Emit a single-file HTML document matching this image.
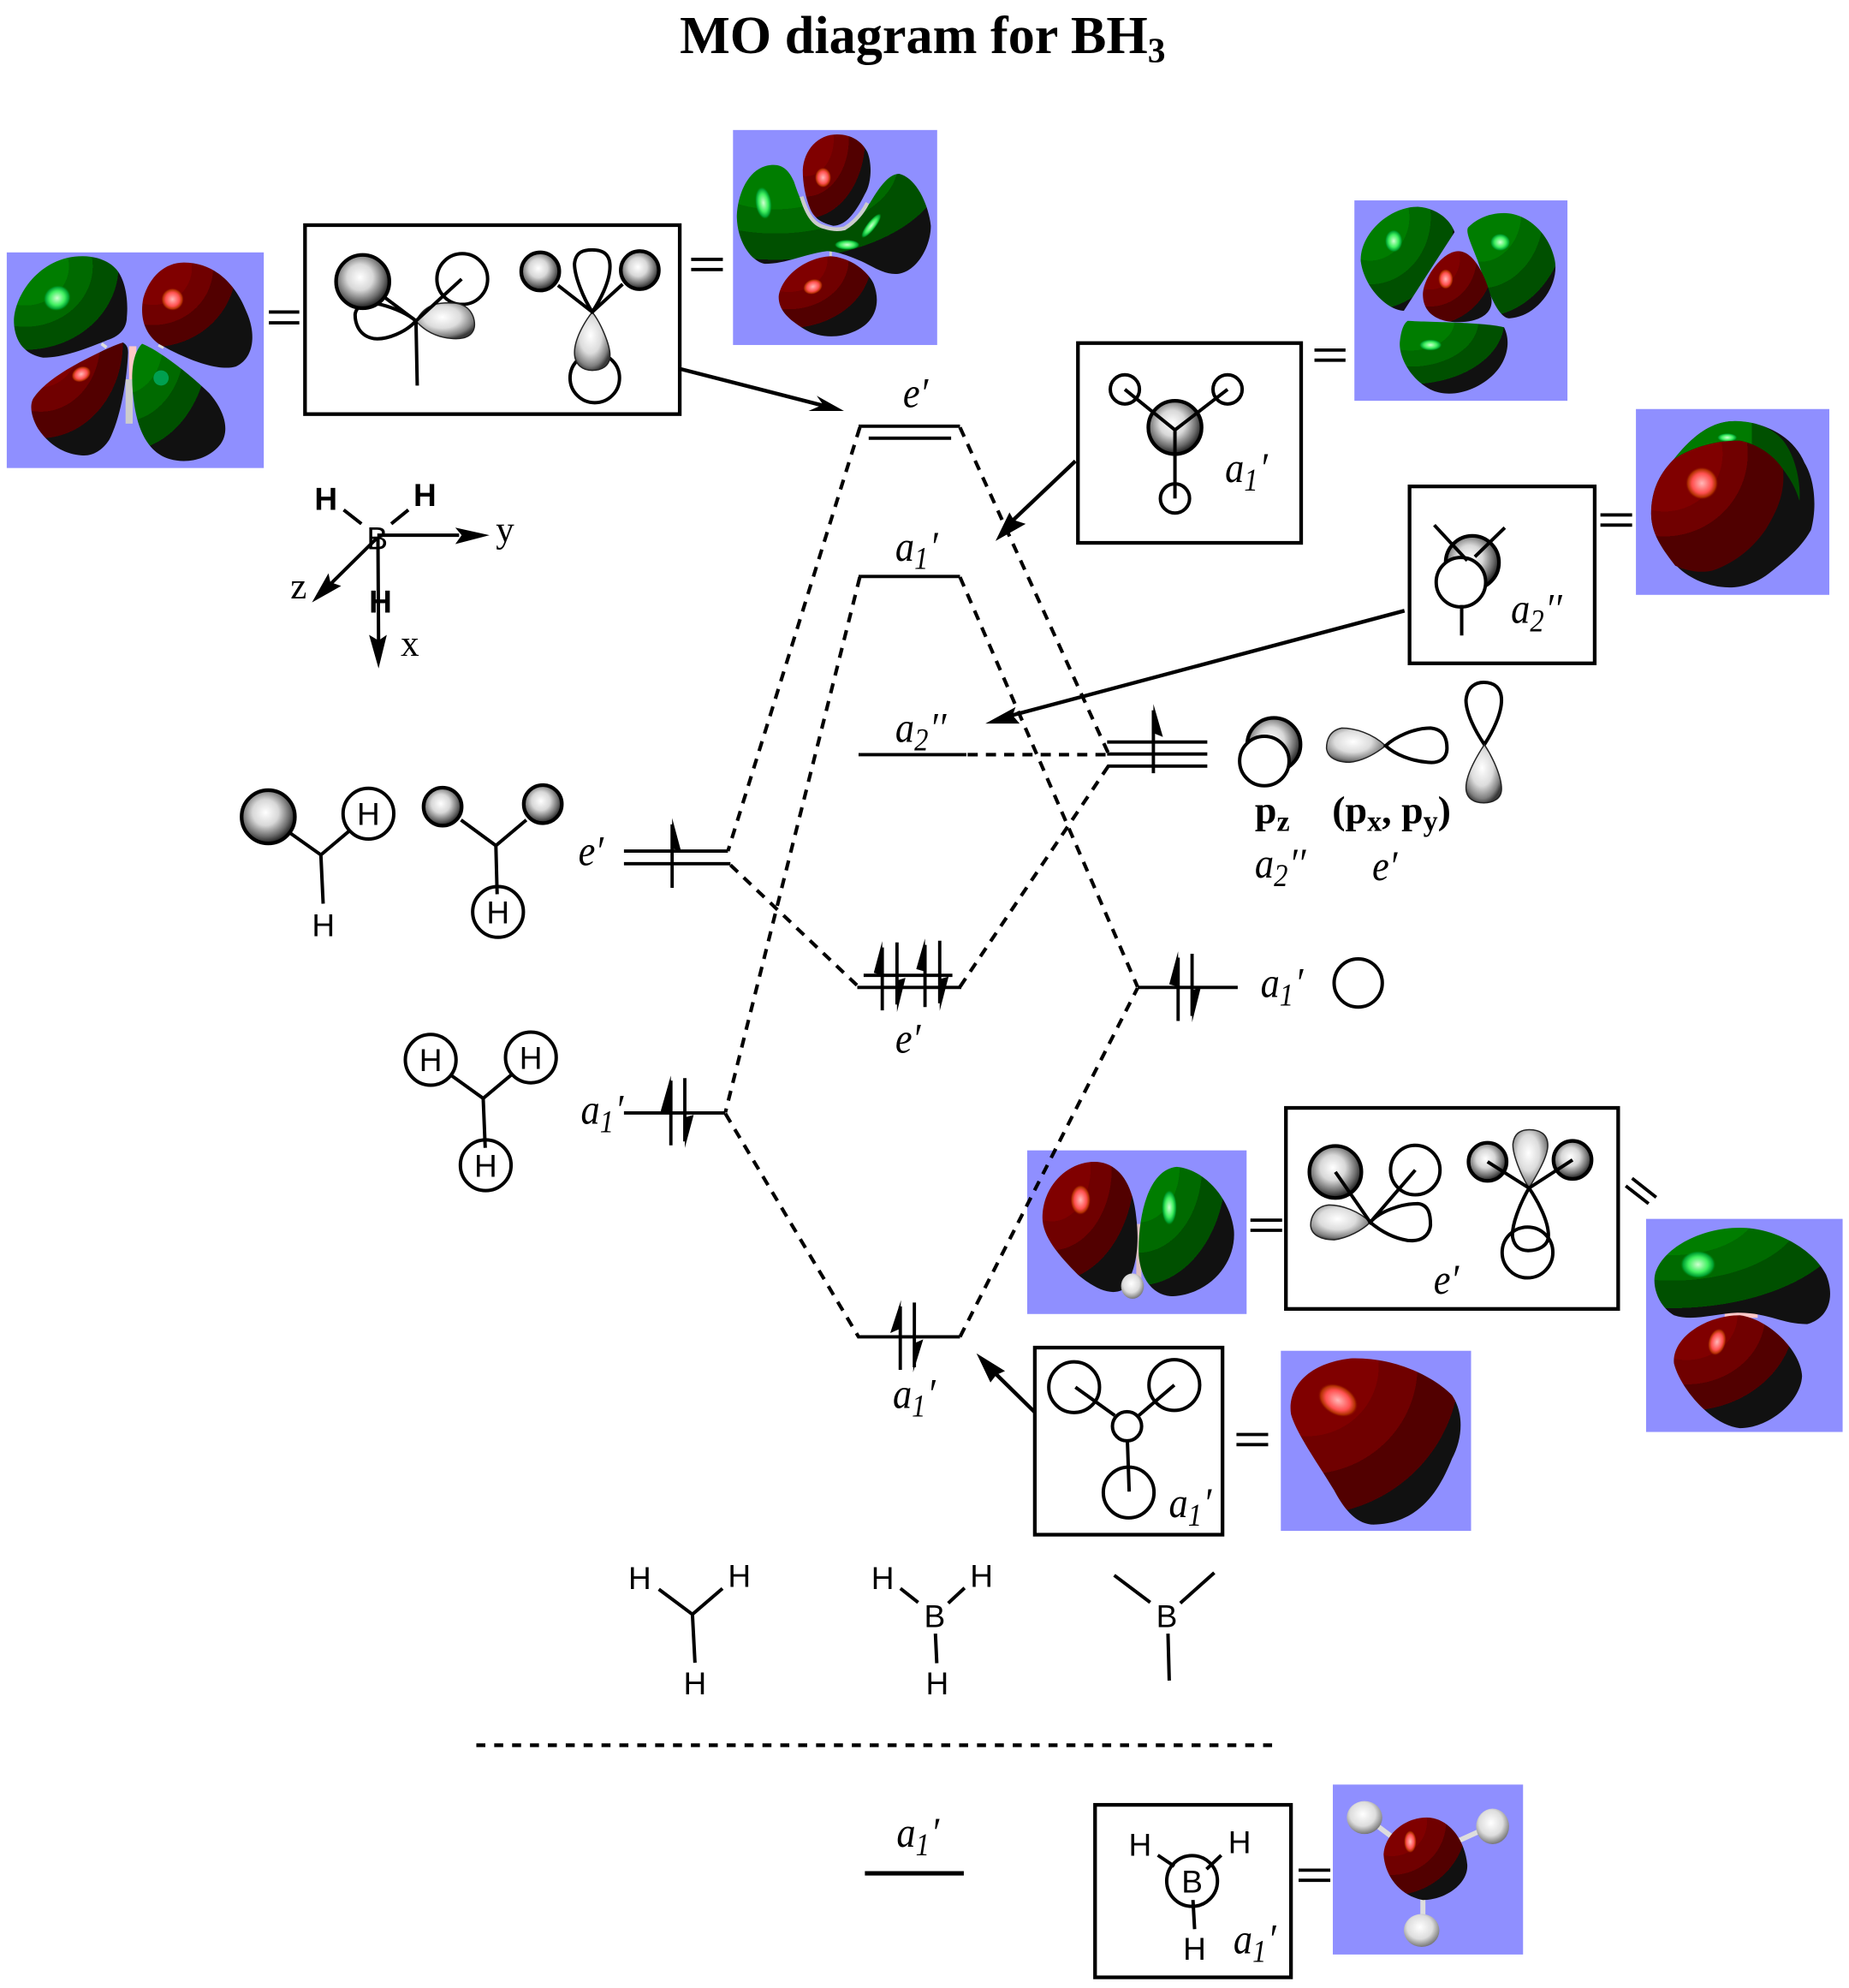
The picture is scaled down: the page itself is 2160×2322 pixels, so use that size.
<!DOCTYPE html>
<html><head><meta charset="utf-8"><title>MO diagram for BH3</title>
<style>
html,body{margin:0;padding:0;background:#fff}
svg{display:block}
.l{stroke:#000;stroke-width:2.7;fill:none;stroke-linecap:butt}
.a{stroke:#000;stroke-width:3;fill:none}
.t{stroke:#000;stroke-width:2.6;fill:none}
.d{stroke:#000;stroke-width:2.8;fill:none;stroke-dasharray:8 6.4}
.bx{stroke:#000;stroke-width:2.9;fill:#fff}
.w{stroke:#000;stroke-width:2.7;fill:#fff}
.n{stroke:#000;stroke-width:2.7;fill:none}
.g{stroke:#000;stroke-width:2.9;fill:url(#ball)}
.lg{stroke:#222;stroke-width:1;fill:url(#lobe)}
.bg{fill:#8f8fff}
.i{font-family:"Liberation Serif",serif;font-style:italic;font-size:30px;fill:#000}
.s{font-family:"Liberation Sans",sans-serif;font-size:25px;fill:#000;text-anchor:middle}
.ax{font-family:"Liberation Serif",serif;font-size:29px;fill:#000}
.bd{font-family:"Liberation Serif",serif;font-weight:bold;font-size:31px;fill:#000}
</style></head><body>
<svg xmlns="http://www.w3.org/2000/svg" width="2160" height="2322" viewBox="0 0 1458 1567.4">
<defs>
<radialGradient id="ball" cx="45%" cy="42%" r="58%"><stop offset="0" stop-color="#fff"/><stop offset=".42" stop-color="#d8d8d8"/><stop offset=".78" stop-color="#6a6a6a"/><stop offset="1" stop-color="#1a1a1a"/></radialGradient>
<radialGradient id="lobe" cx="45%" cy="40%" r="62%"><stop offset="0" stop-color="#fff"/><stop offset=".5" stop-color="#dcdcdc"/><stop offset=".85" stop-color="#808080"/><stop offset="1" stop-color="#3a3a3a"/></radialGradient>

<radialGradient id="rr"><stop offset="0" stop-color="#800000"/><stop offset=".22" stop-color="#800000"/><stop offset=".22" stop-color="#700000"/><stop offset=".34" stop-color="#700000"/><stop offset=".34" stop-color="#520000"/><stop offset=".47" stop-color="#520000"/><stop offset=".47" stop-color="#111"/><stop offset="1" stop-color="#111"/></radialGradient>
<radialGradient id="gr"><stop offset="0" stop-color="#007d00"/><stop offset=".22" stop-color="#007d00"/><stop offset=".22" stop-color="#006a00"/><stop offset=".34" stop-color="#006a00"/><stop offset=".34" stop-color="#005000"/><stop offset=".47" stop-color="#005000"/><stop offset=".47" stop-color="#111"/><stop offset="1" stop-color="#111"/></radialGradient>
<radialGradient id="rn" cx=".1" cy=".1" r="1"><stop offset="0" stop-color="#800000"/><stop offset=".44" stop-color="#800000"/><stop offset=".44" stop-color="#700000"/><stop offset=".63" stop-color="#700000"/><stop offset=".63" stop-color="#500000"/><stop offset="1" stop-color="#500000"/></radialGradient>

<radialGradient id="g1" href="#gr" cx=".1" cy=".1" r="1.75"/>
<radialGradient id="r1" href="#rr" cx=".1" cy=".05" r="1.6"/>
<radialGradient id="r2" href="#rr" cx=".1" cy="0" r="1.8"/>
<radialGradient id="g2" href="#gr" cx="-.1" cy="0" r="1.95"/>
<radialGradient id="r3" href="#rr" cx=".05" cy=".05" r="1.85"/>
<radialGradient id="g3" href="#gr" cx=".2" cy="0" r="1.85"/>
<radialGradient id="r4" href="#rr" cx=".1" cy=".05" r="1.8"/>
<radialGradient id="g4" href="#gr" cx=".1" cy=".1" r="1.9"/>
<radialGradient id="g5" href="#gr" cx=".15" cy="0" r="2.1"/>
<radialGradient id="r5" href="#rr" cx=".1" cy=".1" r="2"/>
<radialGradient id="g6" href="#gr" cx=".1" cy="0" r="1.85"/>
<radialGradient id="r6" href="#rr" cx=".1" cy=".05" r="1.85"/>
<radialGradient id="g7" href="#gr" cx="0" cy="0" r="1.95"/>
<radialGradient id="g8" href="#gr" cx=".1" cy="-.2" r="2.2"/>
<radialGradient id="r7" href="#rr" cx=".1" cy="0" r="1.8"/>
<radialGradient id="r8" href="#rr" cx=".1" cy=".05" r="1.9"/>
<radialGradient id="r9" href="#rr" cx=".1" cy=".05" r="1.9"/>
<linearGradient id="gc" x1="0" y1="0" x2="1" y2="0"><stop offset="0" stop-color="#007a00"/><stop offset=".62" stop-color="#007a00"/><stop offset=".62" stop-color="#005000"/><stop offset="1" stop-color="#005000"/></linearGradient>

<radialGradient id="hr"><stop offset="0" stop-color="#ffb8b8"/><stop offset=".6" stop-color="#ff5050"/><stop offset=".85" stop-color="#b03000"/><stop offset="1" stop-color="#800000" stop-opacity="0"/></radialGradient>
<radialGradient id="hg"><stop offset="0" stop-color="#d0ffd0"/><stop offset=".55" stop-color="#40f060"/><stop offset=".85" stop-color="#00a030"/><stop offset="1" stop-color="#007d00" stop-opacity="0"/></radialGradient>
<radialGradient id="hb" cx="45%" cy="40%" r="60%"><stop offset="0" stop-color="#fff"/><stop offset=".6" stop-color="#ddd"/><stop offset="1" stop-color="#777"/></radialGradient>
</defs>

<text x="536" y="42" font-family="Liberation Serif, serif" font-weight="bold" font-size="42" fill="#000">MO diagram for BH<tspan font-size="28" dy="7">3</tspan></text>

<!-- Blob 1 -->
<rect class="bg" x="5.3" y="199" width="202.7" height="170"/>
<rect x="101.7" y="273" width="5.8" height="26" fill="#ffc8c8"/>
<rect x="99" y="299" width="5.6" height="35" fill="#ccc"/>
<path d="M80 271 L84 274 M125 272 L129 274" stroke="#ddd" stroke-width="2.5"/>
<path fill="url(#g1)" d="M65 202 C78 202 88 207 93 214 C100 224 101 240 100 250 C100 258 95 265 85 268 C68 275 50 282 34 282 C22 280 12 272 11 255 C10 235 30 202 65 202 Z"/>
<path fill="url(#r1)" d="M145 207 C170 207 186 225 194 245 C202 262 201 282 186 289 C172 293 148 284 125 271 C114 263 110 250 113 235 C118 218 130 207 145 207 Z"/>
<path fill="url(#r2)" d="M97 270 C100 272 101 274 101 278 C100 300 95 330 86 347 C80 356 72 360 64 359 C50 358 38 350 30 338 C24 328 23 318 27 313 C35 302 50 292 70 282 C80 277 90 272 97 270 Z"/>
<path fill="url(#g2)" d="M112 271 C125 276 150 295 165 310 C178 325 181 340 174 350 C165 362 148 366 134 362 C120 358 110 345 106 320 C103 300 103 280 112 271 Z"/>
<ellipse cx="45" cy="235" rx="11" ry="10" fill="url(#hg)" transform="rotate(-25 45 235)"/>
<ellipse cx="136" cy="236" rx="9" ry="9" fill="url(#hr)"/>
<ellipse cx="64" cy="295" rx="8" ry="6" fill="url(#hr)" transform="rotate(-25 64 295)"/>
<ellipse cx="127" cy="298" rx="6" ry="6" fill="#00a050"/>

<!-- Blob 2 -->
<rect class="bg" x="578" y="102.5" width="161" height="169.5"/>
<rect x="654" y="196" width="2" height="8" fill="#ccc"/>
<path fill="url(#g3)" d="M610 130 C617 130 622 134 626 143 C630 155 634 165 641 172 C647 178 652 181 658 182 C668 180 678 170 686 160 C692 150 700 137 709 137 C722 140 732 160 734 178 C734 195 722 216 706 216 C695 216 685 208 677 205 C665 200 658 198 652 198 C635 200 620 208 603 208 C592 206 581 190 581 170 C582 150 592 130 610 130 Z"/>
<path d="M632 155 C636 168 641 177 650 179 C656 181 662 181 666 180 C674 175 680 168 684 160" stroke="#ccc" stroke-width="3" fill="none"/>
<path fill="url(#r3)" d="M660 106 C672 106 680 112 684 120 C688 130 687 145 682 153 C676 165 668 178 657 178 C648 176 642 172 639 165 C635 155 633 145 633 134 C634 118 645 106 660 106 Z"/>
<path fill="url(#r4)" d="M655 202 C670 203 684 213 689 224 C695 240 690 255 672 262 C660 267 645 266 635 260 C622 252 614 245 614 234 C616 218 635 203 655 202 Z"/>
<ellipse cx="649" cy="140" rx="6.5" ry="8" fill="url(#hr)"/>
<ellipse cx="602" cy="160" rx="6.5" ry="13" fill="url(#hg)" transform="rotate(-8 602 160)"/>
<ellipse cx="668" cy="193" rx="10" ry="4" fill="url(#hg)"/>
<ellipse cx="687" cy="178" rx="3.5" ry="12" fill="url(#hg)" transform="rotate(38 687 178)"/>
<ellipse cx="641" cy="226" rx="8" ry="6" fill="url(#hr)" transform="rotate(-20 641 226)"/>

<!-- Blob 3 -->
<rect class="bg" x="1068" y="158" width="168" height="158"/>
<path fill="url(#g4)" d="M1118 163 C1132 164 1143 172 1147 183 L1107 245 C1095 245 1076 228 1073 206 C1072 185 1095 163 1118 163 Z"/>
<path fill="url(#g5)" d="M1186 168 C1205 168 1222 185 1226 205 C1230 225 1212 250 1190 251 C1180 250 1172 225 1165 205 C1160 192 1155 182 1158 179 C1165 172 1175 168 1186 168 Z"/>
<path fill="url(#r5)" d="M1150 198 C1163 198 1172 220 1176 235 C1178 248 1165 254 1150 254 C1135 254 1122 248 1122 232 C1122 220 1137 198 1150 198 Z"/>
<path fill="url(#g6)" d="M1110 253 C1130 254 1170 254 1186 258 C1192 270 1188 285 1178 295 C1165 308 1145 314 1130 308 C1112 300 1102 280 1104 268 C1105 260 1107 255 1110 253 Z"/>
<ellipse cx="1099" cy="190" rx="7" ry="9" fill="url(#hg)"/>
<ellipse cx="1183" cy="191" rx="8" ry="7" fill="url(#hg)"/>
<ellipse cx="1140" cy="220" rx="6" ry="8" fill="url(#hr)"/>
<ellipse cx="1128" cy="272" rx="9" ry="4.5" fill="url(#hg)"/>

<!-- Blob 4 -->
<rect class="bg" x="1290" y="322.5" width="152.5" height="146.5"/>
<path fill="#111" d="M1320 362 C1335 343 1350 332 1368 332 C1395 333 1415 346 1423 365 C1431 378 1433 400 1428 418 C1420 432 1410 440 1395 452 C1385 460 1372 464 1360 463 C1345 462 1330 455 1321 445 C1310 432 1302 420 1302 405 C1302 385 1310 372 1320 362 Z"/>
<path fill="url(#gc)" d="M1320 362 C1335 343 1350 332 1368 332 C1385 332 1400 338 1408 350 C1416 362 1420 380 1419 395 C1416 385 1412 378 1406 370 C1395 358 1385 350 1372 347.5 C1355 347 1335 352 1320 362 Z"/>
<ellipse cx="1362" cy="345" rx="8" ry="3.5" fill="url(#hg)"/>
<path fill="url(#rn)" d="M1320 362 C1335 352 1355 347 1372 347.5 C1385 350 1398 358 1406 370 C1408 390 1400 405 1392 418 C1380 435 1365 445 1350 450 C1340 452 1330 450 1321 446 C1310 432 1302 420 1302 405 C1302 385 1310 372 1320 362 Z"/>
<ellipse cx="1342" cy="381" rx="13" ry="13" fill="url(#hr)"/>

<!-- Blob 5 -->
<rect class="bg" x="810" y="907" width="173" height="129"/>
<rect x="896" y="965" width="4" height="45" fill="#ddc0c0"/>
<path fill="url(#r6)" d="M863 916 C880 916 893 930 896 960 C899 985 895 1005 885 1017 C875 1022 862 1015 850 1005 C835 990 822 975 822 960 C822 935 842 916 863 916 Z"/>
<path fill="url(#g7)" d="M928 920 C950 922 970 945 973 970 C975 995 955 1020 925 1022 C912 1022 900 1012 898 990 C897 960 905 922 928 920 Z"/>
<ellipse cx="852" cy="946" rx="8" ry="12" fill="url(#hr)"/>
<ellipse cx="922" cy="952" rx="6" ry="14" fill="url(#hg)"/>
<ellipse cx="893" cy="1014" rx="9" ry="10" fill="url(#hb)"/>

<!-- Blob 6 -->
<rect class="bg" x="1298" y="961" width="155" height="168"/>
<rect x="1360" y="1034" width="26" height="5" fill="#ffc8c8"/>
<path fill="url(#g8)" d="M1372 968 C1400 968 1430 985 1440 1005 C1448 1025 1440 1040 1425 1044 C1405 1044 1395 1035 1370 1035 C1350 1036 1335 1042 1320 1037 C1308 1030 1303 1015 1305 1005 C1310 985 1340 968 1372 968 Z"/>
<path fill="url(#r7)" d="M1372 1037 C1395 1040 1420 1065 1421 1085 C1420 1105 1395 1126 1372 1126 C1350 1124 1325 1095 1320 1075 C1318 1055 1345 1037 1372 1037 Z"/>
<ellipse cx="1339" cy="997" rx="14" ry="11" fill="url(#hg)"/>
<ellipse cx="1354" cy="1058" rx="7" ry="11" fill="url(#hr)" transform="rotate(15 1354 1058)"/>

<!-- Blob 7 -->
<rect class="bg" x="1010" y="1065" width="150" height="142"/>
<path fill="url(#r8)" d="M1065 1071 C1100 1070 1130 1085 1145 1100 C1155 1115 1153 1135 1145 1150 C1135 1175 1120 1200 1085 1202 C1070 1203 1060 1190 1052 1175 C1040 1155 1022 1130 1018 1115 C1015 1095 1030 1075 1065 1071 Z"/>
<ellipse cx="1055" cy="1104" rx="17" ry="12" fill="url(#hr)" transform="rotate(30 1055 1104)"/>

<!-- Blob 8 -->
<rect class="bg" x="1051" y="1407" width="150" height="134"/>
<path d="M1080 1435 L1120 1465 M1175 1440 L1120 1465 M1122 1520 L1122 1470" stroke="#ddd" stroke-width="4" fill="none"/>
<path fill="url(#r9)" d="M1125 1433 C1142 1433 1155 1450 1157 1470 C1158 1485 1140 1498 1122 1498 C1105 1495 1092 1480 1091 1462 C1092 1446 1108 1433 1125 1433 Z"/>
<ellipse cx="1112" cy="1452" rx="5" ry="9" fill="url(#hr)"/>
<ellipse cx="1076" cy="1433" rx="14" ry="13" fill="url(#hb)"/>
<ellipse cx="1177" cy="1440" rx="13" ry="14" fill="url(#hb)"/>
<ellipse cx="1121" cy="1522" rx="14" ry="13" fill="url(#hb)"/>

<!-- Dashed correlation lines -->
<path class="d" d="M678 337 L574 671"/>
<path class="d" d="M678 455 L572 877"/>
<path class="d" d="M576 682 L677 778"/>
<path class="d" d="M572 878 L677 1054"/>
<path class="d" d="M757 337 L874 594"/>
<path class="d" d="M757 455 L897 778"/>
<path class="d" d="M763 595 L874 595"/>
<path class="d" d="M757 778 L874 604"/>
<path class="d" d="M757 1054 L897 779"/>
<path d="M375.6 1376 L1003.5 1376" stroke="#000" stroke-width="3" stroke-dasharray="7.1 7" fill="none"/>

<!-- Levels -->
<path class="t" d="M677 336 L757 336 M685 345.5 L750 345.5"/>
<path class="t" d="M677 454.5 L757 454.5"/>
<path class="t" d="M677 595 L762 595"/>
<path class="t" d="M681 769 L751 769 M676 778.5 L758 778.5"/>
<path class="t" d="M676 1054 L757 1054"/>
<path class="t" d="M492 671 L574 671 M492 681 L576 681"/>
<path class="t" d="M492 877.5 L572 877.5"/>
<path class="t" d="M873 585 L952 585 M873 594.5 L952 594.5 M873 604 L952 604"/>
<path class="t" d="M897 778.5 L976 778.5"/>
<path d="M682 1477 L760 1477" stroke="#000" stroke-width="3.4" fill="none"/>

<!-- Electrons -->
<path class="t" d="M530 650 L530 700"/><path d="M530 645 L537 671 L530 669 Z"/>
<path class="t" d="M529 852 L529 903 M540 850 L540 900"/><path d="M529 848 L529 878 L521 876 Z"/><path d="M540 905 L540 881 L547 879 Z"/>
<path class="t" d="M695.7 747 L695.7 796.6 M707.3 743 L707.3 792 M729.4 745 L729.4 794 M741 741.7 L741 791"/>
<path d="M695.7 742 L695.7 769 L689 767 Z"/><path d="M707.3 798 L707.3 773 L714 771 Z"/><path d="M729.4 740 L729.4 766 L722.5 764 Z"/><path d="M741 797 L741 772 L748 770 Z"/>
<path class="t" d="M709.9 1030 L709.9 1080 M721 1027 L721 1078"/><path d="M710.5 1025 L709 1048 L702 1051 Z"/><path d="M720 1082 L721 1059 L728 1056 Z"/>
<path class="t" d="M909.5 560 L909.5 609.6"/><path d="M909.5 555 L909.5 578 L917 581 Z"/>
<path class="t" d="M929 755 L929 805 M940 752 L940 801"/><path d="M929 750 L929 778 L922 776 Z"/><path d="M940 806 L940 781 L947 778 Z"/>

<!-- Level labels -->
<text class="i" transform="translate(712 321) scale(1 1.12)">e′</text>
<text class="i" transform="translate(706 442) scale(1 1.12)">a<tspan font-size="22" dy="6">1</tspan><tspan dy="-6" dx="1">′</tspan></text>
<text class="i" transform="translate(706 585) scale(1 1.12)">a<tspan font-size="22" dy="6">2</tspan><tspan dy="-6" dx="1">′′</tspan></text>
<text class="i" transform="translate(456 682) scale(1 1.12)">e′</text>
<text class="i" transform="translate(458 886) scale(1 1.12)">a<tspan font-size="22" dy="6">1</tspan><tspan dy="-6" dx="1">′</tspan></text>
<text class="i" transform="translate(706 830) scale(1 1.12)">e′</text>
<text class="i" transform="translate(704 1110) scale(1 1.12)">a<tspan font-size="22" dy="6">1</tspan><tspan dy="-6" dx="1">′</tspan></text>
<text class="i" transform="translate(707 1456) scale(1 1.12)">a<tspan font-size="22" dy="6">1</tspan><tspan dy="-6" dx="1">′</tspan></text>
<text class="i" transform="translate(989.5 692) scale(1 1.12)">a<tspan font-size="22" dy="6">2</tspan><tspan dy="-6" dx="1">′′</tspan></text>
<text class="i" transform="translate(1082 694) scale(1 1.12)">e′</text>
<text class="i" transform="translate(994 786) scale(1 1.12)">a<tspan font-size="22" dy="6">1</tspan><tspan dy="-6" dx="1">′</tspan></text>
<circle class="n" cx="1071" cy="775" r="19"/>

<!-- Box A -->
<rect class="bx" x="240.5" y="177.5" width="295.5" height="149"/>
<circle class="n" cx="364.5" cy="220" r="20"/>
<path class="w" d="M328 253 C320 262 305 268 295 267 C283 265 280 255 280 248 C281 240 290 238 300 240 C312 243 322 248 328 253 Z"/>
<circle class="g" cx="286" cy="222" r="21"/>
<path class="lg" d="M328 253 C335 240 345 238 358 239 C372 240 375 252 374 258 C372 268 360 268 350 266 C340 264 332 258 328 253 Z"/>
<path class="l" d="M304 235 L328 253 L364 220 M328 253 L329 304"/>
<circle class="g" cx="426" cy="214" r="15"/><circle class="g" cx="504.5" cy="213" r="15"/>
<circle class="n" cx="469" cy="298" r="19.5"/>
<path class="n" d="M467 246 C460 235 453 218 453 208 C454 198 461 197 467 197 C475 197 481 200 481 210 C481 222 473 237 467 246 Z"/>
<path class="lg" d="M467 246 C474 255 481 272 481 280 C481 289 474 292 467 292 C460 292 453 288 453 278 C453 268 460 255 467 246 Z"/>
<path class="l" d="M440 225 L467 246 L491 224"/>

<!-- equals -->
<path class="t" d="M212 246 L236 246 M212 254.5 L236 254.5"/>
<path class="t" d="M545 204.5 L570 204.5 M545 212.5 L570 212.5"/>
<path class="t" d="M1036.5 276 L1061 276 M1036.5 284 L1061 284"/>
<path class="t" d="M1262 406 L1287 406 M1262 414 L1287 414"/>
<path class="t" d="M986 962 L1011 962 M986 970 L1011 970"/>
<path class="t" d="M975 1131 L1000 1131 M975 1139 L1000 1139"/>
<path class="t" d="M1287 929 L1306 944 M1282 935 L1300 949"/>
<path class="t" d="M1024 1474.5 L1049 1474.5 M1024 1482.5 L1049 1482.5"/>

<!-- Box B -->
<rect class="bx" x="850" y="270.5" width="176" height="157.5"/>
<circle class="g" cx="926.5" cy="337" r="21"/>
<circle class="n" cx="887" cy="307" r="11.5"/><circle class="n" cx="968" cy="307" r="11.5"/><circle class="n" cx="926.5" cy="393" r="11.5"/>
<path class="l" d="M887 307 L926.5 339 L968 307 M926.5 339 L926.5 393"/>
<text class="i" transform="translate(966 380) scale(1 1.12)">a<tspan font-size="22" dy="6">1</tspan><tspan dy="-6" dx="1">′</tspan></text>

<!-- Box C -->
<rect class="bx" x="1111.5" y="383.5" width="146" height="139.5"/>
<circle class="g" cx="1161" cy="443.5" r="21"/>
<path class="l" d="M1163 439 L1186.6 416"/>
<circle class="w" cx="1152" cy="459" r="19.5"/>
<path class="l" d="M1131 414 L1157 442 M1152.6 477 L1152.6 501"/>
<text class="i" transform="translate(1191.5 491) scale(1 1.12)">a<tspan font-size="22" dy="6">2</tspan><tspan dy="-6" dx="1">′′</tspan></text>

<!-- p orbitals -->
<circle class="g" cx="1004.5" cy="587" r="21"/>
<circle class="w" cx="997" cy="600" r="19.5"/>
<path class="lg" d="M1092.6 588 C1082 578 1068 574 1058 574 C1048 576 1046 584 1046 590 C1047 598 1055 601 1064 601 C1075 600 1085 594 1092.6 588 Z"/>
<path class="n" d="M1092.6 588 C1100 581 1115 574 1128 574 C1139 575 1141 583 1141 590 C1141 598 1135 602 1126 601 C1113 600 1100 595 1092.6 588 Z"/>
<path class="n" d="M1170.5 587 C1163 576 1156 562 1156 552 C1157 541 1164 538 1170 538 C1178 538 1184 542 1184 552 C1184 563 1177 577 1170.5 587 Z"/>
<path class="lg" d="M1170.5 587 C1177 597 1184 612 1184 622 C1184 630 1177 633 1170 633 C1163 633 1156 630 1156 621 C1156 611 1164 597 1170.5 587 Z"/>
<text class="bd" x="989.5" y="649">p<tspan font-size="23" dy="6">z</tspan></text>
<text class="bd" x="1050.5" y="649">(p<tspan font-size="23" dy="6">x</tspan><tspan dy="-6">, p</tspan><tspan font-size="23" dy="6">y</tspan><tspan dy="-6">)</tspan></text>

<!-- Left sketches -->
<circle class="g" cx="211.5" cy="644" r="21"/>
<circle class="n" cx="290.5" cy="641.5" r="20"/>
<text class="s" x="290.5" y="650.5">H</text>
<path class="l" d="M229 657 L253 674 L275 655.5 M253 674 L254.8 712.5"/>
<text class="s" x="255" y="738">H</text>
<circle class="g" cx="349" cy="636" r="15"/><circle class="g" cx="428" cy="634" r="15"/>
<path class="l" d="M363.5 646.5 L391 666.7 L415 646.5 M391 666.7 L392 705"/>
<circle class="n" cx="392.7" cy="719" r="20"/>
<text class="s" x="392.7" y="728">H</text>
<circle class="n" cx="339.6" cy="835.6" r="20"/><text class="s" x="339.6" y="844.6">H</text>
<circle class="n" cx="418.6" cy="833.7" r="20"/><text class="s" x="418.6" y="842.7">H</text>
<circle class="n" cx="383" cy="918.7" r="20"/><text class="s" x="383" y="927.7">H</text>
<path class="l" d="M356 848 L381 866 L403 847.6 M381 866 L382.6 905"/>

<!-- axes -->
<text x="257" y="402" font-family="Liberation Sans, sans-serif" font-weight="bold" font-size="25" text-anchor="middle">H</text>
<text x="335" y="399" font-family="Liberation Sans, sans-serif" font-weight="bold" font-size="25" text-anchor="middle">H</text>
<text x="300" y="483" font-family="Liberation Sans, sans-serif" font-weight="bold" font-size="25" text-anchor="middle">H</text>
<text class="s" x="297.5" y="433">B</text>
<path class="l" d="M271 402 L285 413 M322 402 L308.5 413"/>
<path class="l" d="M297.5 422 L362 422 M297.5 424 L258 463 M298 424 L298.5 505"/>
<polygon points="386,422 359,416 364,422 359,429"/>
<polygon points="246,475 259,452 260.5,459 269,462"/>
<polygon points="298.5,527 291,500.5 298.5,505 305,500.5"/>
<text class="ax" x="391" y="427">y</text>
<text class="ax" x="316" y="517">x</text>
<text class="ax" x="229" y="472">z</text>

<!-- big arrows -->
<path class="a" d="M537 291 L650 320"/><polygon points="665.5,324 644,312 649,319 637.5,324"/>
<path class="a" d="M848 363.5 L799 410"/><polygon points="785,426.5 808.8,413 799.4,410 796,404"/>
<path class="a" d="M1107.5 481.5 L798 564"/><polygon points="777,570.5 804,570.5 798.5,564 800.8,557.5"/>
<path class="a" d="M816 1113.5 L785 1083"/><polygon points="770,1067 792.5,1081 785.6,1084 781,1090"/>

<!-- Box D -->
<rect class="bx" x="1014" y="873.5" width="262" height="158.5"/>
<circle class="n" cx="1116" cy="922.5" r="19.5"/>
<circle class="g" cx="1053" cy="924" r="20.5"/>
<path class="lg" d="M1080.5 963.7 C1072 955 1058 950 1048 950 C1037 951 1033.5 960 1033.5 966 C1034 974 1042 977.5 1052 977.5 C1063 976 1074 970 1080.5 963.7 Z"/>
<path class="n" d="M1080.5 963.7 C1088 955 1105 949 1118 949 C1127 950 1128 958 1128 966 C1127 975 1120 979 1110 978 C1098 976 1088 970 1080.5 963.7 Z"/>
<path class="l" d="M1053 924 L1080.5 963.7 L1116 922.5"/>
<circle class="n" cx="1204.5" cy="987.5" r="20"/>
<path class="n" d="M1205.7 936.7 C1198 950 1192 966 1192.7 975 C1194 983 1199 986 1205 986 C1212 986 1221 983 1221 974 C1221 962 1212 946 1205.7 936.7 Z"/>
<circle class="g" cx="1173" cy="916" r="15"/><circle class="g" cx="1240" cy="914.5" r="15"/>
<path class="lg" d="M1205.7 936.7 C1199 926 1192.7 910 1193 902 C1194 893 1200 890.7 1206 890.7 C1214 890.7 1220.5 894 1220.5 903 C1220.5 912 1212 926 1205.7 936.7 Z"/>
<path class="l" d="M1173 916 L1205.7 936.7 L1240 914.5"/>
<text class="i" transform="translate(1130.5 1020) scale(1 1.12)">e′</text>

<!-- Box E -->
<rect class="bx" x="816" y="1062.5" width="148" height="147.5"/>
<circle class="n" cx="847" cy="1093.7" r="20"/><circle class="n" cx="926" cy="1092" r="20"/><circle class="n" cx="890" cy="1176.7" r="20"/>
<circle class="n" cx="888.7" cy="1124.5" r="11.5"/>
<path class="l" d="M848 1093.7 L879 1116 M926 1092 L898 1116 M889 1136 L890.4 1176"/>
<text class="i" transform="translate(921.7 1196) scale(1 1.12)">a<tspan font-size="22" dy="6">1</tspan><tspan dy="-6" dx="1">′</tspan></text>

<!-- Lewis structures -->
<text class="s" x="504.5" y="1253">H</text><text class="s" x="583" y="1251">H</text><text class="s" x="548" y="1336">H</text>
<path class="l" d="M519.5 1253 L546 1272.8 L569.7 1252.4 M546 1272.8 L548 1311"/>
<text class="s" x="696" y="1253">H</text><text class="s" x="774" y="1251">H</text><text class="s" x="737" y="1283">B</text><text class="s" x="739" y="1336">H</text>
<path class="l" d="M710 1252.4 L724 1263.4 M760.6 1252 L747.7 1264 M737.6 1288 L738.7 1311.3"/>
<text class="s" x="920" y="1283">B</text>
<path class="l" d="M878.6 1242 L907 1263.4 M957.5 1240 L930.7 1264 M921 1288 L922 1325"/>

<!-- Box F -->
<rect class="bx" x="863.5" y="1423" width="154.5" height="136"/>
<text class="s" x="899" y="1463">H</text><text class="s" x="977.5" y="1461">H</text><text class="s" x="942" y="1545">H</text>
<circle class="n" cx="940" cy="1483" r="20"/>
<text class="s" x="940" y="1492">B</text>
<path class="l" d="M913 1462.7 L926 1471.4 M963 1462.7 L951.4 1473.7 M940.7 1498 L942 1521"/>
<text class="i" transform="translate(972.6 1540) scale(1 1.12)">a<tspan font-size="22" dy="6">1</tspan><tspan dy="-6" dx="1">′</tspan></text>
</svg>
</body></html>
